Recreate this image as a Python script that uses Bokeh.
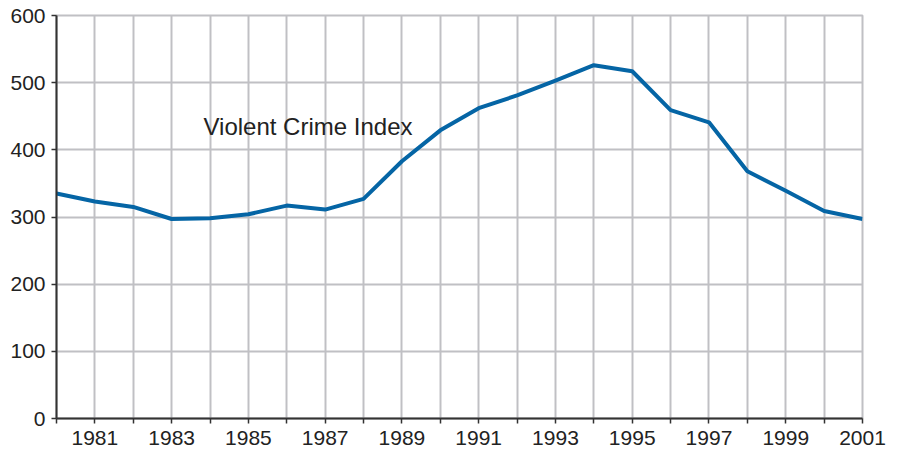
from bokeh.plotting import figure
from bokeh.models import FixedTicker, Range1d, Label
from bokeh.embed import file_html
from bokeh.resources import INLINE

years = list(range(1980, 2002))
violent_crime_index = [335, 323, 315, 297, 298, 304, 317, 311, 327, 383, 429,
                       462, 481, 503, 526, 517, 459, 441, 368, 339, 309, 297]
y_ticks = [0, 100, 200, 300, 400, 500, 600]
series_label = "Violent Crime Index"

FONT = "Liberation Sans"
GRID = "#c0c0c4"
AXIS = "#333333"
TEXT = "#222222"

p = figure(width=900, height=453, output_backend="svg", toolbar_location=None,
           x_range=Range1d(1980, 2001), y_range=Range1d(0, 600),
           min_border_left=56, min_border_right=38, min_border_top=15, min_border_bottom=35)
p.background_fill_color = "white"
p.border_fill_color = "white"
p.outline_line_color = GRID
p.outline_line_width = 2

p.line(years, violent_crime_index, line_color="#0565a5", line_width=4, line_join="round")

p.xaxis.ticker = FixedTicker(ticks=years)
p.xaxis.major_label_overrides = {y: ("" if y % 2 == 0 else str(y)) for y in years}
p.yaxis.ticker = FixedTicker(ticks=y_ticks)

for ax in (p.xaxis[0], p.yaxis[0]):
    ax.axis_line_color = AXIS
    ax.axis_line_width = 2
    ax.major_tick_line_color = AXIS
    ax.major_tick_line_width = 1.5
    ax.major_tick_in = 0
    ax.major_tick_out = 5
    ax.minor_tick_line_color = None
    ax.major_label_text_font = FONT
    ax.major_label_text_font_size = "21px"
    ax.major_label_text_color = TEXT
p.xaxis.major_label_standoff = 7
p.yaxis.major_label_standoff = 6

p.xgrid.grid_line_color = GRID
p.ygrid.grid_line_color = GRID
p.xgrid.grid_line_width = 2
p.ygrid.grid_line_width = 2

p.add_layout(Label(x=1983.83, y=435, text=series_label, text_font=FONT,
                   text_font_size="24px", text_color=TEXT, text_baseline="middle"))

open("out.html", "w").write(file_html(p, INLINE))
